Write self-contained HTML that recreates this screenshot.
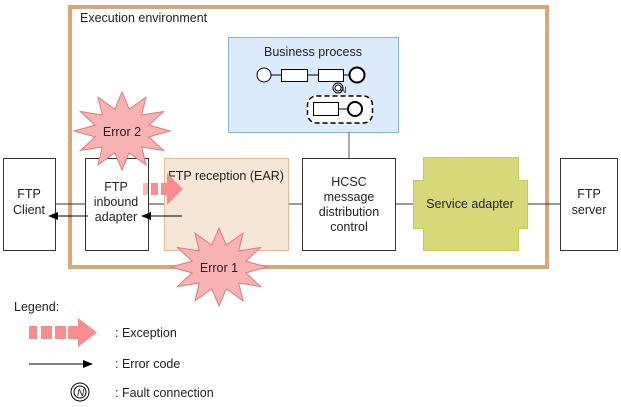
<!DOCTYPE html>
<html><head><meta charset="utf-8"><style>body{margin:0;background:#fff}svg{display:block}text{font-family:"Liberation Sans",sans-serif;font-size:12.5px;fill:#222}</style></head><body>
<svg width="621" height="407" viewBox="0 0 621 407" xmlns="http://www.w3.org/2000/svg">
<defs>
<polygon id="star" points="1,0 .56,.15 .866,.5 .41,.41 .5,.866 .15,.56 0,1 -.15,.56 -.5,.866 -.41,.41 -.866,.5 -.56,.15 -1,0 -.56,-.15 -.866,-.5 -.41,-.41 -.5,-.866 -.15,-.56 0,-1 .15,-.56 .5,-.866 .41,-.41 .866,-.5 .56,-.15" fill="#f9b2b2" stroke="#e07a7a" stroke-width="1" vector-effect="non-scaling-stroke"/>
<marker id="ah" markerWidth="10" markerHeight="8" refX="9" refY="4" orient="auto" markerUnits="userSpaceOnUse"><path d="M0,0 L10,4 L0,8z" fill="#000"/></marker>
</defs>
<rect x="70" y="7" width="477" height="260" fill="none" stroke="#d8a67a" stroke-width="4"/>
<text x="80" y="22">Execution environment</text>
<rect x="228.5" y="37.5" width="170" height="95" fill="#dbeafc" stroke="#8ab4e0"/>
<text x="313" y="56" text-anchor="middle">Business process</text>
<g stroke="#000" fill="#fff">
<line x1="271" y1="75" x2="349" y2="75"/>
<circle cx="264" cy="75" r="7"/>
<rect x="281.5" y="69.5" width="26" height="12"/>
<rect x="318.5" y="69.5" width="25" height="12"/>
<circle cx="357" cy="75" r="7.5" stroke-width="2"/>
<rect x="307.5" y="96" width="65" height="27" rx="9" stroke-dasharray="5,3" stroke-width="1.5"/>
<line x1="338" y1="109" x2="349" y2="109"/>
<rect x="313.5" y="102.5" width="25" height="13"/>
<circle cx="355" cy="109" r="7" stroke-width="2"/>
<circle cx="338" cy="88" r="5"/><circle cx="338" cy="88" r="3"/>
</g>
<text x="340" y="93" style="font-size:9px">N</text>
<line x1="349" y1="132" x2="349" y2="158" stroke="#555"/>
<g stroke="#333" fill="none">
<line x1="55" y1="204" x2="85" y2="204"/>
<line x1="148" y1="204" x2="165" y2="204"/>
<line x1="288" y1="204" x2="302" y2="204"/>
<line x1="395" y1="204" x2="414" y2="204"/>
<line x1="527" y1="204" x2="560" y2="204"/>
</g>
<rect x="3.5" y="158.5" width="52" height="92" fill="#fff" stroke="#333"/>
<text x="29" y="198" text-anchor="middle">FTP</text><text x="29" y="214" text-anchor="middle">Client</text>
<rect x="85.5" y="158.5" width="63" height="92" fill="#fff" stroke="#333"/>
<text x="116" y="191" text-anchor="middle">FTP</text><text x="116" y="206" text-anchor="middle">inbound</text><text x="116" y="221" text-anchor="middle">adapter</text>
<rect x="164.5" y="158.5" width="124" height="92" fill="#f6e6d6" stroke="#e6bc92"/>
<text x="226" y="180" text-anchor="middle">FTP reception (EAR)</text>
<rect x="302.5" y="158.5" width="93" height="92" fill="#fff" stroke="#333"/>
<text x="349" y="186" text-anchor="middle">HCSC</text><text x="349" y="201" text-anchor="middle">message</text><text x="349" y="216" text-anchor="middle">distribution</text><text x="349" y="231" text-anchor="middle">control</text>
<path d="M423.5,157.5 H518.5 V180.5 H527.5 V228.5 H518.5 V250.5 H423.5 V228.5 H413.5 V180.5 H423.5Z" fill="#d8d878" stroke="#c8c860"/>
<text x="470" y="208" text-anchor="middle">Service adapter</text>
<rect x="560.5" y="158.5" width="57" height="92" fill="#fff" stroke="#333"/>
<text x="589" y="198" text-anchor="middle">FTP</text><text x="589" y="214" text-anchor="middle">server</text>
<line x1="88" y1="216" x2="49" y2="216" stroke="#000" marker-end="url(#ah)"/>
<line x1="182" y1="216" x2="142" y2="216" stroke="#000" marker-end="url(#ah)"/>
<g fill="#f98d8d"><rect x="143" y="183" width="5" height="12" fill="#fbb"/><rect x="151" y="183" width="7" height="12"/><rect x="161" y="183" width="6" height="12"/><path d="M167,173 L183,189 L167,205Z"/></g>
<use href="#star" transform="translate(122,131) scale(48,39)"/>
<text x="122" y="136" text-anchor="middle">Error 2</text>
<use href="#star" transform="translate(219,267) scale(48,39)"/>
<text x="219" y="272" text-anchor="middle">Error 1</text>
<text x="14" y="311">Legend:</text>
<g fill="#f98d8d"><rect x="29" y="326" width="8" height="13"/><rect x="41" y="326" width="11" height="13"/><rect x="55" y="326" width="11" height="13"/><rect x="68" y="326" width="10" height="13"/><path d="M78,318 L97,332.5 L78,347Z"/></g>
<text x="115" y="337">: Exception</text>
<line x1="29" y1="364" x2="92" y2="364" stroke="#000" marker-end="url(#ah)"/>
<text x="115" y="368">: Error code</text>
<circle cx="80" cy="392" r="9" fill="#fff" stroke="#000"/><circle cx="80" cy="392" r="6" fill="none" stroke="#000"/>
<text x="77" y="396" style="font-size:10px;font-style:italic">N</text>
<text x="115" y="397">: Fault connection</text>
</svg>
</body></html>
